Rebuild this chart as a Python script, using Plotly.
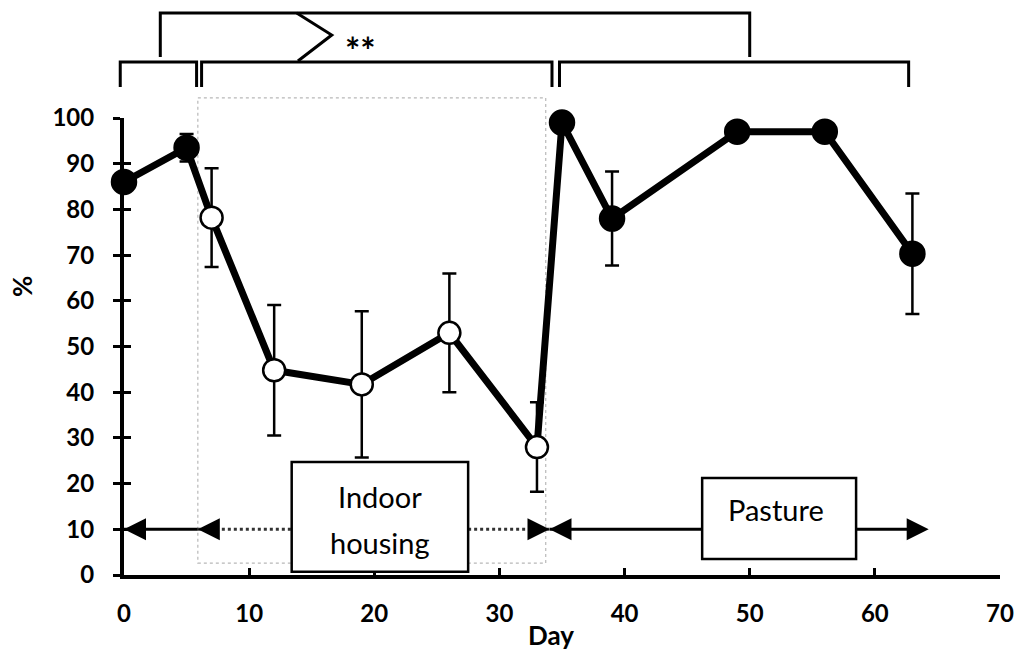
import plotly.graph_objects as go

# Sampling days and percentage values
days = [0, 5, 7, 12, 19, 26, 33, 35, 39, 49, 56, 63]
pct = [86, 93.5, 78.2, 44.8, 41.7, 53, 28, 99, 78, 97, 97, 70.3]
err = [0, 3, 10.8, 14.3, 16, 13, 9.8, 0, 10.3, 0, 0, 13.2]
indoor = [False, False, True, True, True, True, True, False, False, False, False, False]

# Management periods (days)
housing_start = 5.9
housing_end = 33.7
pasture_start = 34.0
pasture_arrow_end = 64.3
period_y = 10
indoor_box = dict(x0=13.4, x1=27.5, y0=0.7, y1=24.7)
pasture_box = dict(x0=46.2, x1=58.5, y0=3.5, y1=21.2)
shade_top = 104.4
shade_bottom = 2.6

# Comparison brackets (day positions)
brackets_low = [(-0.3, 5.8), (6.2, 34.2), (34.8, 62.7)]
bracket_upper = (2.9, 50.0)

X_RANGE = [0, 70]
Y_RANGE = [0, 100]
FONT = "Lato"

fig = go.Figure()

# connecting line
fig.add_trace(go.Scatter(
    x=days, y=pct, mode="lines",
    line=dict(color="black", width=7),
    cliponaxis=False, showlegend=False, hoverinfo="skip",
))

def subset(flag):
    idx = [i for i, f in enumerate(indoor) if f == flag]
    return ([days[i] for i in idx], [pct[i] for i in idx], [err[i] for i in idx])

for flag, fill, size in ((False, "black", 24), (True, "white", 22)):
    xs, ys, es = subset(flag)
    fig.add_trace(go.Scatter(
        x=xs, y=ys, mode="markers", yaxis="y2",
        marker=dict(size=size, color=fill, line=dict(color="black", width=2.5)),
        error_y=dict(type="data", array=es, visible=True,
                     color="black", thickness=2.5, width=7),
        cliponaxis=False, showlegend=False,
    ))

def xp(day):
    """day -> paper x"""
    return (day - X_RANGE[0]) / (X_RANGE[1] - X_RANGE[0])

def ypx(py):
    """pixel row above the plot -> paper y"""
    return (575 - py) / 457

shapes = []
# indoor housing shaded region
shapes.append(dict(type="rect", xref="x", yref="paper",
                   x0=housing_start, x1=housing_end,
                   y0=shade_bottom / Y_RANGE[1], y1=shade_top / Y_RANGE[1],
                   line=dict(color="#b8b8b8", width=1.2, dash="dot"),
                   fillcolor="rgba(0,0,0,0)", layer="below"))

# period arrow shafts
shapes.append(dict(type="line", xref="x", yref="y", x0=0, x1=housing_start,
                   y0=period_y, y1=period_y, line=dict(color="black", width=3)))
shapes.append(dict(type="line", xref="x", yref="y", x0=housing_start, x1=indoor_box["x0"],
                   y0=period_y, y1=period_y, line=dict(color="#333", width=3, dash="dot")))
shapes.append(dict(type="line", xref="x", yref="y", x0=indoor_box["x1"], x1=pasture_start,
                   y0=period_y, y1=period_y, line=dict(color="#333", width=3, dash="dot")))
shapes.append(dict(type="line", xref="x", yref="y", x0=pasture_start, x1=pasture_box["x0"],
                   y0=period_y, y1=period_y, line=dict(color="black", width=3)))
shapes.append(dict(type="line", xref="x", yref="y", x0=pasture_box["x1"], x1=pasture_arrow_end - 1,
                   y0=period_y, y1=period_y, line=dict(color="black", width=3)))

# period boxes
for b in (indoor_box, pasture_box):
    shapes.append(dict(type="rect", xref="x", yref="y", **b,
                       line=dict(color="black", width=2.5), fillcolor="white"))

# brackets above the plot
low_top, low_bot = ypx(62), ypx(87)
for x0, x1 in brackets_low:
    shapes.append(dict(type="path", xref="paper", yref="paper",
                       path=f"M {xp(x0)},{low_bot} L {xp(x0)},{low_top} "
                            f"L {xp(x1)},{low_top} L {xp(x1)},{low_bot}",
                       line=dict(color="black", width=3)))
up_top, up_bot = ypx(13), ypx(57)
shapes.append(dict(type="path", xref="paper", yref="paper",
                   path=f"M {xp(bracket_upper[0])},{up_bot} L {xp(bracket_upper[0])},{up_top} "
                        f"L {xp(bracket_upper[1])},{up_top} L {xp(bracket_upper[1])},{up_bot}",
                   line=dict(color="black", width=3)))
shapes.append(dict(type="path", xref="paper", yref="paper",
                   path=f"M {xp(13.8)},{up_top} L {xp(16.6)},{ypx(35)} L {xp(13.9)},{ypx(61)}",
                   line=dict(color="black", width=3)))

# arrow heads
def head(x, direction):
    return dict(x=x, y=period_y, xref="x", yref="y", text="", showarrow=True,
                ax=x + (1.0 if direction == "left" else -1.0), ay=period_y,
                axref="x", ayref="y", arrowhead=2, arrowsize=2.2, arrowwidth=2,
                arrowcolor="black", standoff=0)

box_font = dict(family=FONT, size=29, color="black")
annotations = [
    head(0, "left"), head(housing_start, "left"),
    head(pasture_start, "right"), head(pasture_start, "left"),
    head(pasture_arrow_end, "right"),
    dict(x=(indoor_box["x0"] + indoor_box["x1"]) / 2, y=17.1, xref="x", yref="y",
         text="Indoor", showarrow=False, font=box_font),
    dict(x=(indoor_box["x0"] + indoor_box["x1"]) / 2, y=7.2, xref="x", yref="y",
         text="housing", showarrow=False, font=box_font),
    dict(x=52.1, y=14.3, xref="x", yref="y", text="Pasture", showarrow=False, font=box_font),
    dict(x=xp(18.9), y=ypx(50), xref="paper", yref="paper", xanchor="center", yanchor="middle",
         text="**", showarrow=False,
         font=dict(family=FONT, size=36, color="black", weight="bold")),
    dict(x=34.1, y=0, xref="x", yref="paper", yshift=-60, xanchor="center", yanchor="middle",
         text="Day", showarrow=False,
         font=dict(family=FONT, size=26, color="black", weight="bold")),
    dict(x=0, y=63, xref="paper", yref="y", xshift=-102, xanchor="center", yanchor="middle",
         text="%", showarrow=False, textangle=-90,
         font=dict(family=FONT, size=26, color="black", weight="bold")),
]

tick_font = dict(family=FONT, size=24, color="black", weight="bold")
fig.update_layout(
    width=1026, height=651,
    margin=dict(l=124, r=17, t=118, b=76),
    paper_bgcolor="white", plot_bgcolor="white",
    shapes=shapes, annotations=annotations,
    xaxis=dict(range=X_RANGE, dtick=10, showgrid=False, zeroline=False,
               showline=True, linecolor="black", linewidth=4,
               ticks="inside", ticklen=7, tickwidth=3, tickcolor="black",
               ticklabelstandoff=14, tickfont=tick_font),
    yaxis=dict(range=Y_RANGE, dtick=10, showgrid=False, zeroline=False,
               showline=True, linecolor="black", linewidth=4,
               ticks="outside", ticklen=7, tickwidth=3, tickcolor="black",
               ticklabelstandoff=14, tickfont=tick_font),
    yaxis2=dict(overlaying="y", matches="y", side="left", showgrid=False,
                zeroline=False, showline=False, showticklabels=False,
                ticks="inside", ticklen=7, tickwidth=3, tickcolor="black", dtick=10),
)

fig.write_html("out.html")
